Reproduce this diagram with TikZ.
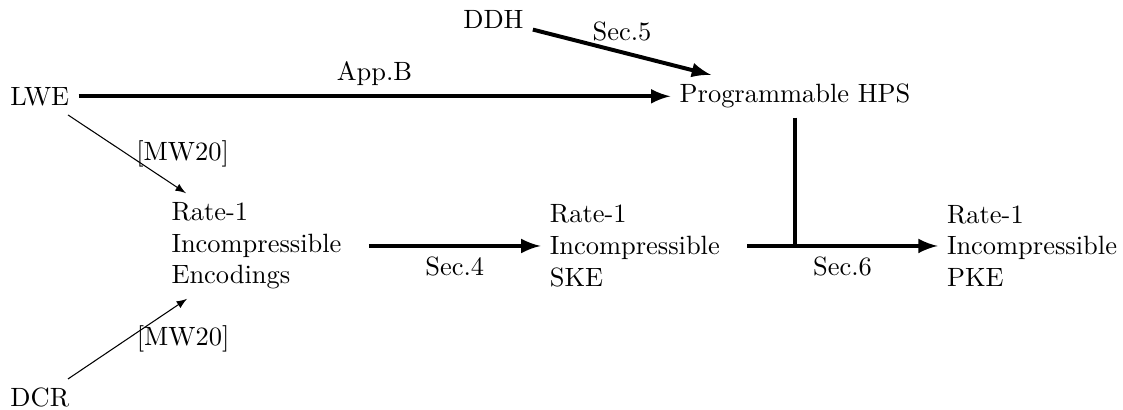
\documentclass[tikz,border=0pt]{standalone}
\usetikzlibrary{arrows}

\begin{document}
\begin{tikzpicture}[
    thickarr/.style={-latex, line width=1.5pt},
    thinarr/.style={-latex},
    stack/.style={text width=2.5cm, align=left}
]
                \useasboundingbox (0,0) rectangle (14.93,-5.45);

                \node (lwe) at (0.53,-1.28) {LWE};
                \node (dcr) at (0.53,-5.29) {DCR};
                \node (ddh) at (6.56,-0.26) {DDH};
                \node (hps) at (10.57,-1.28) {Programmable HPS};
                \node[stack] (enc) at (3.53,-3.27) {Rate-1\\Incompressible\\Encodings};
                \node[stack] (ske) at (8.56,-3.27) {Rate-1\\Incompressible\\SKE};
                \node[stack] (pke) at (13.84,-3.27) {Rate-1\\Incompressible\\PKE};

                \draw[thickarr] (lwe) edge node[above] {App.B} (hps);
                \draw[thickarr] (ddh) edge node[above] {Sec.5} (hps);

                \draw[thinarr] (lwe) edge node[right] {[MW20]} (enc);
                \draw[thinarr] (dcr) edge node[right] {[MW20]} (enc);

                \draw[thickarr] (enc) edge node[below] {Sec.4} (ske);

                \draw[line width=1.5pt] (hps) -- (hps |- ske);
                \draw[thickarr] (ske) edge node[below] {Sec.6} (pke);
            \end{tikzpicture}
\end{document}
